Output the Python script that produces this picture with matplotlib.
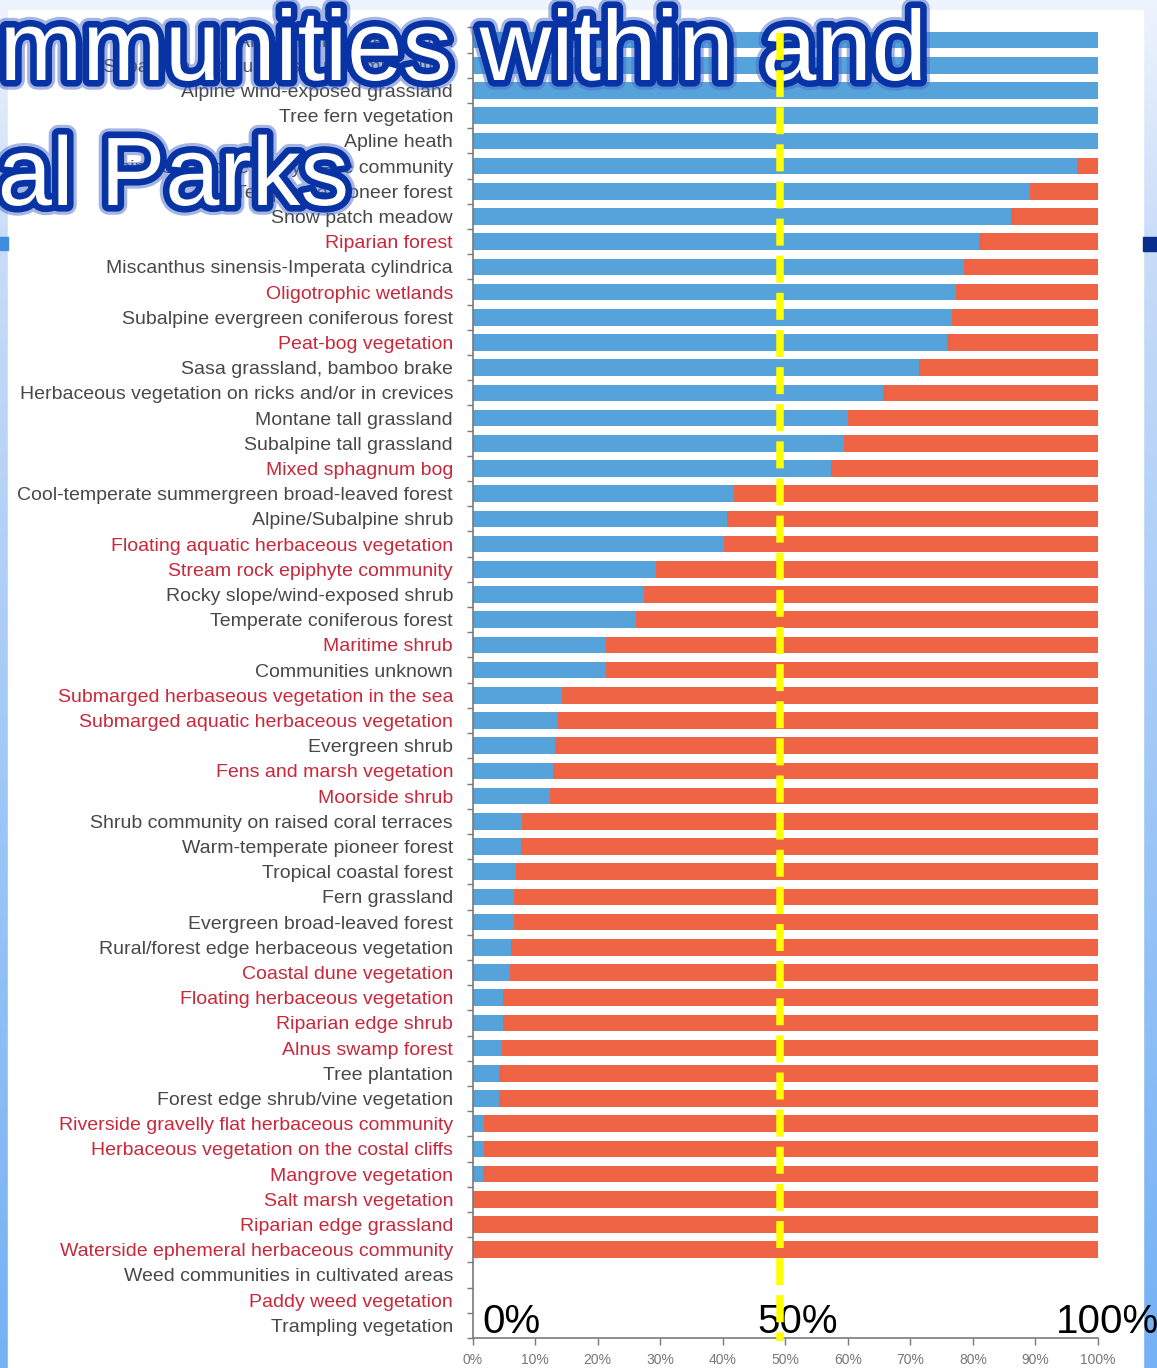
import matplotlib
matplotlib.use('Agg')
import matplotlib.pyplot as plt
import numpy as np
import matplotlib.patheffects as pe
from matplotlib.patches import Rectangle
from matplotlib.colors import LinearSegmentedColormap

# ---------------- data ----------------
labels = [
    "Alpine fellfield vegetation",
    "Subalpine deciduous scrub communities",
    "Alpine wind-exposed grassland",
    "Tree fern vegetation",
    "Apline heath",
    "Alpine/Subalpine rocky place community",
    "Temperate pioneer forest",
    "Snow patch meadow",
    "Riparian forest",
    "Miscanthus sinensis-Imperata cylindrica",
    "Oligotrophic wetlands",
    "Subalpine evergreen coniferous forest",
    "Peat-bog vegetation",
    "Sasa grassland, bamboo brake",
    "Herbaceous vegetation on ricks and/or in crevices",
    "Montane tall grassland",
    "Subalpine tall grassland",
    "Mixed sphagnum bog",
    "Cool-temperate summergreen broad-leaved forest",
    "Alpine/Subalpine shrub",
    "Floating aquatic herbaceous vegetation",
    "Stream rock epiphyte community",
    "Rocky slope/wind-exposed shrub",
    "Temperate coniferous forest",
    "Maritime shrub",
    "Communities unknown",
    "Submarged herbaseous vegetation in the sea",
    "Submarged aquatic herbaceous vegetation",
    "Evergreen shrub",
    "Fens and marsh vegetation",
    "Moorside shrub",
    "Shrub community on raised coral terraces",
    "Warm-temperate pioneer forest",
    "Tropical coastal forest",
    "Fern grassland",
    "Evergreen broad-leaved forest",
    "Rural/forest edge herbaceous vegetation",
    "Coastal dune vegetation",
    "Floating herbaceous vegetation",
    "Riparian edge shrub",
    "Alnus swamp forest",
    "Tree plantation",
    "Forest edge shrub/vine vegetation",
    "Riverside gravelly flat herbaceous community",
    "Herbaceous vegetation on the costal cliffs",
    "Mangrove vegetation",
    "Salt marsh vegetation",
    "Riparian edge grassland",
    "Waterside ephemeral herbaceous community",
    "Weed communities in cultivated areas",
    "Paddy weed vegetation",
    "Trampling vegetation",
]

# 1 = label shown in red, 0 = grey
red_label = [0, 0, 0, 0, 0, 0, 0, 0, 1, 0, 1, 0, 1, 0, 0, 0, 0, 1, 0, 0,
             1, 1, 0, 0, 1, 0, 1, 1, 0, 1, 1, 0, 0, 0, 0, 0, 0, 1, 1, 1,
             1, 0, 0, 1, 1, 1, 1, 1, 1, 0, 1, 0]

blue_share = [100, 100, 100, 100, 100, 96.7, 89.2, 86.1, 80.9, 78.5,
              77.3, 76.7, 75.8, 71.4, 65.7, 60.0, 59.4, 57.3, 41.8, 40.7,
              40.2, 29.3, 27.4, 26.1, 21.3, 21.4, 14.3, 13.7, 13.2, 12.9,
              12.4, 7.9, 7.8, 6.9, 6.7, 6.6, 6.1, 6.0, 4.9, 4.8,
              4.7, 4.2, 4.2, 1.9, 1.9, 1.7, 0.3, 0, 0, 0,
              0, 0]

red_share = [0, 0, 0, 0, 0, 3.3, 10.8, 13.9, 19.1, 21.5,
             22.7, 23.3, 24.2, 28.6, 34.3, 40.0, 40.6, 42.7, 58.2, 59.3,
             59.8, 70.7, 72.6, 73.9, 78.7, 78.6, 85.7, 86.3, 86.8, 87.1,
             87.6, 92.1, 92.2, 93.1, 93.3, 93.4, 93.9, 94.0, 95.1, 95.2,
             95.3, 95.8, 95.8, 98.1, 98.1, 98.3, 99.7, 100, 100, 0,
             0, 0]

x_ticks = [0, 10, 20, 30, 40, 50, 60, 70, 80, 90, 100]
x_ticklabels = ["0%", "10%", "20%", "30%", "40%", "50%", "60%", "70%", "80%", "90%", "100%"]
marker_line_at = 49.1

title_line1 = "Communities within and"
title_line2 = "National Parks"
big_marks = ["0%", "50%", "100%"]

# ---------------- figure ----------------
W, H = 1157, 1368
fig = plt.figure(figsize=(W / 100, H / 100), dpi=100)

SANS = ['Liberation Sans', 'DejaVu Sans']

# slide background
bg = fig.add_axes([0, 0, 1, 1], zorder=-10)
bg.set_xlim(0, W)
bg.set_ylim(H, 0)
bg.axis('off')
grad = np.linspace(0, 1, 256).reshape(-1, 1)
cmap = LinearSegmentedColormap.from_list(
    'bg', [(0, '#eef4fd'), (0.18, '#c8dcf8'), (1, '#74b1f5')])
bg.imshow(grad, cmap=cmap, extent=[0, W, H, 0], aspect='auto')
bg.add_patch(Rectangle((8, 10), 1135, H - 10, color='white'))
bg.add_patch(Rectangle((1143, 237), 14, 14, color='#0a2d8c'))
bg.add_patch(Rectangle((0, 237), 8, 13, color='#3d8de0'))

# chart axes
left_px, right_px, top_px, bot_px = 472.5, 1098, 27.4, 1338
ax = fig.add_axes([left_px / W, 1 - bot_px / H,
                   (right_px - left_px) / W, (bot_px - top_px) / H], zorder=1)
ax.patch.set_alpha(0)

n = len(labels)
y = np.arange(n)
blue_c = '#56a3db'
red_c = '#ee6444'
ax.barh(y, blue_share, height=0.66, color=blue_c, linewidth=0)
ax.barh(y, red_share, left=blue_share, height=0.66, color=red_c, linewidth=0)

ax.set_xlim(0, 100)
ax.set_ylim(n - 0.5, -0.5)
for s in ['top', 'right']:
    ax.spines[s].set_visible(False)
for s in ['left', 'bottom']:
    ax.spines[s].set_color('#7a7a7a')
    ax.spines[s].set_linewidth(1.2)

ax.set_yticks(y)
ax.set_yticklabels(labels)
ax.set_yticks(np.arange(-0.5, n, 1), minor=True)
ax.tick_params(axis='y', which='major', length=0, pad=14)
ax.tick_params(axis='y', which='minor', length=4, color='#7a7a7a', width=1)
for lab, r in zip(ax.get_yticklabels(), red_label):
    lab.set_fontfamily(SANS)
    lab.set_fontsize(14)
    lab.set_color('#c8283a' if r else '#484848')

ax.set_xticks(x_ticks)
ax.set_xticklabels(x_ticklabels)
ax.tick_params(axis='x', length=5, color='#7a7a7a', width=1, pad=6,
               labelsize=10, labelcolor='#777777')
for lab in ax.get_xticklabels():
    lab.set_fontfamily(SANS)

# title overlay
title_fx = [pe.withStroke(linewidth=14, foreground='#4a6cc8', alpha=0.5),
            pe.withStroke(linewidth=9.5, foreground='#0833a5')]
fig.text(927 / W, 1 - 80 / H, title_line1, ha='right', va='baseline',
         fontsize=71.5, color='white', family=SANS, path_effects=title_fx, zorder=5)
fig.text(349 / W, 1 - 205 / H, title_line2, ha='right', va='baseline',
         fontsize=70, color='white', family=SANS, path_effects=title_fx, zorder=5)

# big percent overlay
for txt, xp in zip(big_marks, [482, 757, 1056]):
    fig.text(xp / W, 1 - 1333 / H, txt, ha='left', va='baseline',
             fontsize=29, color='black', family=SANS, zorder=6)

# yellow dashed marker line on top of everything
ov = fig.add_axes(ax.get_position(), zorder=10)
ov.set_xlim(0, 100)
ov.set_ylim(0, 1)
ov.axis('off')
ov.plot([marker_line_at, marker_line_at], [0.9957, -0.002], color='#ffff00',
        linewidth=5.4, linestyle=(0, (3.6, 1.35)), solid_capstyle='butt',
        dash_capstyle='butt', clip_on=False)

fig.savefig('out.png', dpi=100)
